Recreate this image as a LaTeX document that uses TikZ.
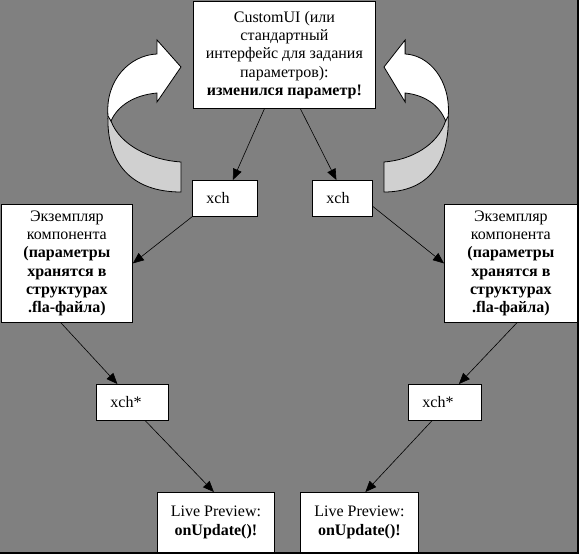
\documentclass[tikz,border=0pt]{standalone}
\usepackage{fontspec}
\setmainfont{Liberation Serif}
\usepackage{xcolor}
\definecolor{xgray}{HTML}{808080}
\definecolor{xlight}{HTML}{D0D0D0}
\usetikzlibrary{arrows.meta}
\tikzset{
  %% Styles %%
  box/.style = {
    rectangle, draw=black, fill=white, line width=0.8pt,
    align=center, inner sep=0pt, anchor=north west,
    font=\fontsize{16}{18.3}\selectfont,
  },
  xbox/.style = {box, align=left, inner xsep=14pt, minimum height=36pt},
  conn/.style = {line width=0.6pt, -{Triangle[length=11pt,width=9pt]}},
  pics/bentarrow/.style = {
      code = {
          % back band
          \draw[fill=xlight, line width=0.8pt] (-73,114) .. controls (-75,163) and (-50,192) .. (0,192)
              -- (0,162) .. controls (-31,160) and (-61,145) .. (-70,121) -- cycle;
          % front band with head
          \draw[fill=white, line width=0.8pt] (-73,116) .. controls (-76,80) and (-51,55) .. (-24,54)
              -- (-24,40) -- (0,67) -- (-24,102) -- (-24,93)
              .. controls (-46,95) and (-63,105) .. (-70,121) -- cycle;
      }
  },
}

\begin{document}
\begin{tikzpicture}[x=1pt, y=-1pt]
            \useasboundingbox (0,0) rectangle (579,554);
            \fill[xgray] (0,0) rectangle (579,554);
            \draw[line width=2pt] (578,0) -- (578,553) -- (0,553);
            \foreach \px/\sx in {181/1, 384/-0.88}
                \pic[xscale=\sx] at (\px,0) {bentarrow};
            \node[box, minimum width=182pt, minimum height=107pt] (ui) at (193,1)
                {CustomUI (или\\стандартный\\интерфейс для задания\\параметров):\\\textbf{изменился параметр!}};
            \node[xbox, text width=37pt] (xchL) at (192,180) {xch};
            \node[xbox, text width=32pt] (xchR) at (312,180) {xch};
            \node[box, minimum width=131pt, minimum height=118pt] (instL) at (1,204)
                {Экземпляр\\компонента\\\textbf{(параметры}\\\textbf{хранятся в}\\\textbf{структурах}\\\textbf{.fla-файла)}};
            \node[box, minimum width=133pt, minimum height=118pt] (instR) at (444,204)
                {Экземпляр\\компонента\\\textbf{(параметры}\\\textbf{хранятся в}\\\textbf{структурах}\\\textbf{.fla-файла)}};
            \node[xbox, text width=44pt] (xsL) at (96,384) {xch*};
            \node[xbox, text width=45pt] (xsR) at (408,384) {xch*};
            \node[box, minimum width=117pt, minimum height=60pt] (lpL) at (157,492) {Live Preview:\\\textbf{onUpdate()!}};
            \node[box, minimum width=118pt, minimum height=60pt] (lpR) at (300,492) {Live Preview:\\\textbf{onUpdate()!}};
            \draw[conn] ([xshift=-20pt]ui.south) -- ([xshift=8pt]xchL.north);
            \draw[conn] ([xshift=16pt]ui.south) -- ([xshift=-6pt]xchR.north);
            \draw[conn] (xchL.south west) -- (instL.east);
            \draw[conn] ([yshift=-8pt]xchR.east) -- (instR.west);
            \draw[conn] ([xshift=-6pt]instL.south) -- ([xshift=-15pt]xsL.north);
            \draw[conn] ([xshift=6pt]instR.south) -- ([xshift=14pt]xsR.north);
            \draw[conn] ([xshift=13pt]xsL.south) -- ([xshift=-2pt]lpL.north);
            \draw[conn] ([xshift=-13pt]xsR.south) -- ([xshift=6pt]lpR.north);
        \end{tikzpicture}
\end{document}
